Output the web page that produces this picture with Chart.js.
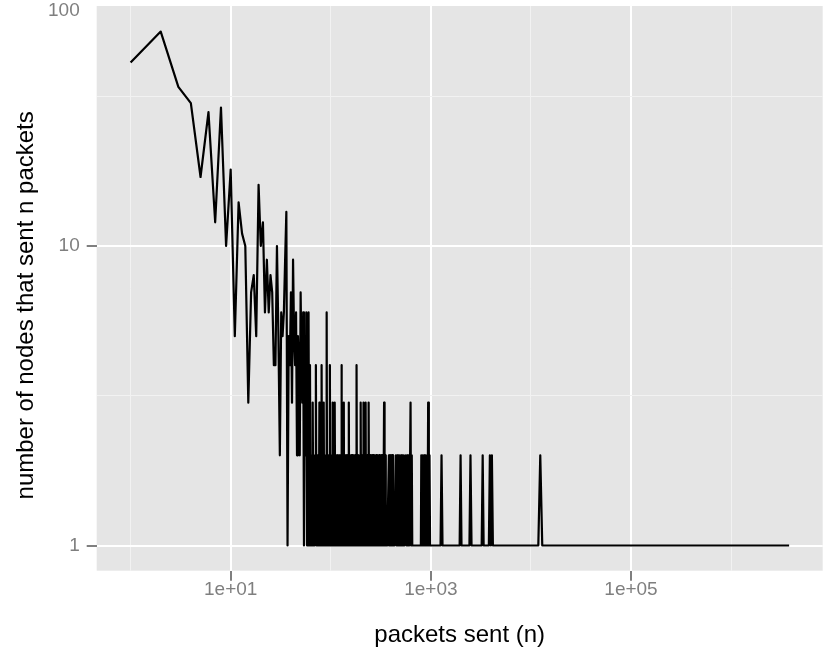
<!DOCTYPE html>
<html lang="en">
<head>
<meta charset="UTF-8">
<title>packets sent (n)</title>
<script src="https://cdn.jsdelivr.net/npm/chart.js"></script>
<style>
    body { margin: 0; background: #ffffff; }
    .chart-box { width: 830px; height: 667px; position: relative; }
</style>
</head>
<body>
<div class="chart-box"><canvas id="packetChart"></canvas></div>
<script>
// packets sent (n) and how many nodes sent exactly n packets
const packets = [
    // 1 - 52
    1, 2, 3, 4, 5, 6, 7, 8, 9, 10,
    11, 12, 13, 14, 15, 16, 17, 18, 19, 20,
    21, 22, 23, 24, 25, 26, 27, 28, 29, 30,
    31, 32, 33, 34, 35, 36, 37, 38, 39, 40,
    41, 42, 43, 44, 45, 46, 47, 48, 49, 50,
    51, 52,
    // 53 - 100
    53, 54, 55, 56, 57, 58, 59, 60, 61, 62,
    63, 64, 65, 66, 67, 68, 69, 70, 71, 72,
    73, 74, 75, 76, 77, 78, 79, 80, 81, 82,
    83, 84, 85, 86, 87, 88, 89, 90, 91, 92,
    93, 94, 95, 96, 97, 98, 99, 100,
    // 101 - 433
    101, 102, 103, 104, 105, 106, 107, 108, 109, 110,
    111, 112, 113, 114, 115, 116, 117, 118, 119, 120,
    121, 122, 123, 124, 125, 126, 127, 128, 129, 130,
    131, 132, 133, 135, 136, 137, 138, 139, 140, 141,
    142, 144, 145, 147, 148, 150, 151, 152, 153, 155,
    156, 158, 159, 161, 162, 164, 165, 167, 168, 170,
    171, 173, 174, 176, 177, 179, 180, 182, 183, 185,
    186, 188, 189, 191, 192, 194, 195, 197, 198, 200,
    201, 203, 204, 206, 207, 209, 210, 212, 213, 215,
    216, 218, 219, 221, 222, 224, 225, 228, 229, 232,
    233, 236, 237, 241, 242, 245, 246, 249, 250, 253,
    254, 257, 258, 261, 262, 266, 267, 271, 272, 276,
    277, 281, 282, 286, 287, 291, 292, 296, 297, 301,
    302, 306, 307, 311, 312, 316, 317, 322, 323, 328,
    329, 334, 335, 341, 342, 348, 349, 354, 355, 367,
    381, 382, 386, 387, 391, 392, 396, 397, 401, 402,
    407, 408, 413, 414, 419, 420, 433,
    // 448 and up
    448, 454, 461, 468, 475, 482, 489, 497, 505, 513,
    521, 529, 537, 545, 563, 572, 581, 590, 600, 610,
    627, 635, 645, 652, 720, 795, 803, 816, 829, 842,
    856, 870, 884, 898, 913, 927, 940, 955, 970, 982,
    1100, 1250, 1279, 1308, 1600, 1940, 1982, 2025, 2430, 2489,
    2550, 3220, 3296, 3370, 3800, 3890, 3980, 4074, 4170, 7000,
    11850, 12400, 12980, 30000, 3800000
];
const nodes = [
    // 1 - 52
    41, 52, 34, 30, 17, 28, 12, 29, 10, 18,
    5, 14, 11, 10, 3, 7, 8, 5, 16, 10,
    12, 6, 9, 6, 8, 7, 4, 4, 10, 5,
    2, 6, 5, 6, 9, 13, 1, 5, 4, 7,
    3, 9, 5, 4, 6, 2, 5, 4, 2, 7,
    4, 3,
    // 53 - 100
    6, 1, 5, 2, 6, 1, 4, 6, 1, 4,
    1, 2, 1, 3, 1, 2, 1, 2, 4, 1,
    2, 1, 2, 1, 3, 1, 2, 1, 4, 1,
    2, 1, 3, 1, 2, 1, 2, 1, 6, 1,
    2, 1, 2, 1, 2, 4, 1, 2,
    // 101 - 433
    1, 2, 1, 3, 1, 2, 1, 2, 1, 3,
    1, 2, 1, 2, 1, 2, 1, 2, 1, 2,
    1, 2, 1, 2, 1, 2, 1, 4, 1, 2,
    1, 2, 1, 3, 1, 2, 1, 2, 1, 2,
    1, 2, 1, 2, 1, 2, 1, 3, 1, 2,
    1, 2, 1, 2, 1, 2, 1, 2, 1, 2,
    1, 2, 1, 2, 1, 2, 1, 4, 1, 2,
    1, 2, 1, 2, 1, 2, 1, 2, 1, 3,
    1, 2, 1, 2, 1, 2, 1, 3, 1, 2,
    1, 2, 1, 2, 1, 3, 1, 2, 1, 2,
    1, 2, 1, 3, 1, 2, 1, 2, 1, 2,
    1, 2, 1, 2, 1, 2, 1, 2, 1, 2,
    1, 2, 1, 2, 1, 2, 1, 2, 1, 2,
    1, 2, 1, 2, 1, 2, 1, 2, 1, 2,
    1, 2, 1, 3, 1, 2, 1, 2, 1, 1,
    2, 1, 2, 1, 2, 1, 2, 1, 2, 1,
    2, 1, 2, 1, 2, 1, 1,
    // 448 and up
    2, 1, 2, 1, 2, 1, 2, 1, 2, 1,
    2, 1, 2, 1, 2, 1, 2, 1, 2, 1,
    3, 1, 2, 1, 1, 1, 2, 1, 2, 1,
    2, 1, 2, 1, 2, 1, 3, 1, 2, 1,
    1, 1, 2, 1, 1, 1, 2, 1, 1, 2,
    1, 1, 2, 1, 1, 2, 1, 2, 1, 1,
    1, 2, 1, 1, 1
];

// axis breaks (log10 scales)
const xBreaks = [10, 1000, 100000];
const xBreakLabels = ['1e+01', '1e+03', '1e+05'];
const xMinorBreaks = [1, 100, 10000, 1000000];
const yBreaks = [1, 10, 100];
const yBreakLabels = ['1', '10', '100'];
const yMinorBreaks = [3.1623, 31.623];

const xTitle = 'packets sent (n)';
const yTitle = 'number of nodes that sent n packets';

const FONT = "'Liberation Sans', Arial, sans-serif";
const TICK_GREY = '#7f7f7f';

function makeTicks(breaks, minorBreaks, min, max) {
    let ticks = breaks.map(v => ({ value: v, minor: false }))
        .concat(minorBreaks.map(v => ({ value: v, minor: true })));
    ticks = ticks.filter(t => t.value >= min && t.value <= max);
    ticks.sort((a, b) => a.value - b.value);
    return ticks;
}

function labelFor(breaks, labels, value) {
    const i = breaks.indexOf(value);
    return i >= 0 ? labels[i] : '';
}

const panelPlugin = {
    id: 'panelPlugin',
    beforeDraw(chart) {
        const { ctx, chartArea: a } = chart;
        ctx.save();
        ctx.fillStyle = '#e5e5e5';
        ctx.fillRect(a.left, a.top, a.right - a.left, a.bottom - a.top);
        ctx.restore();
    },
    afterDraw(chart) {
        const yScale = chart.scales.y;
        const { ctx, chartArea: a } = chart;
        ctx.save();
        // breaks above the panel still get their label, pinned to the top edge
        ctx.font = '19px ' + FONT;
        ctx.fillStyle = TICK_GREY;
        ctx.textAlign = 'right';
        ctx.textBaseline = 'middle';
        yBreaks.forEach((v, i) => {
            if (v > yScale.max) {
                ctx.fillText(yBreakLabels[i], yScale.right - 10 - 7, a.top + 4.5);
            }
        });
        // y title sits a little below the panel centre, like the original
        ctx.font = '24px ' + FONT;
        ctx.fillStyle = '#000000';
        ctx.textAlign = 'center';
        ctx.translate(26.5, (a.top + a.bottom) / 2 + 17);
        ctx.rotate(-Math.PI / 2);
        ctx.fillText(yTitle, 0, 0);
        ctx.restore();
    }
};

const xMin = 0.4585, xMax = 8.23e6;
const yMin = 0.824, yMax = 63.3;

const gridColor = c => (c.tick && c.tick.minor) ? '#f2f2f2' : '#ffffff';
const gridWidth = c => (c.tick && c.tick.minor) ? 1 : 2;
const tickColor = c => (c.tick && c.tick.minor) ? 'rgba(0,0,0,0)' : TICK_GREY;

const ctx = document.getElementById('packetChart').getContext('2d');
const packetChart = new Chart(ctx, {
    type: 'line',
    data: {
        datasets: [{
            data: packets.map((n, i) => ({ x: n, y: nodes[i] })),
            borderColor: '#000000',
            borderWidth: 2.2,
            borderJoinStyle: 'round',
            pointRadius: 0,
            tension: 0,
            fill: false
        }]
    },
    options: {
        responsive: true,
        maintainAspectRatio: false,
        animation: false,
        layout: { padding: { top: 6, right: 7.3, bottom: 0, left: 0 } },
        plugins: {
            legend: { display: false },
            tooltip: { enabled: false }
        },
        scales: {
            x: {
                type: 'logarithmic',
                position: 'bottom',
                min: xMin,
                max: xMax,
                bounds: 'data',
                afterBuildTicks: s => { s.ticks = makeTicks(xBreaks, xMinorBreaks, xMin, xMax); },
                afterFit: s => { s.height = 96.3; s.paddingLeft = 0; s.paddingRight = 0; },
                border: { display: false },
                grid: {
                    color: gridColor,
                    lineWidth: gridWidth,
                    tickColor: tickColor,
                    tickLength: 10,
                    tickWidth: 2
                },
                ticks: {
                    autoSkip: false,
                    maxRotation: 0,
                    padding: -2,
                    color: TICK_GREY,
                    font: { family: FONT, size: 19 },
                    callback: v => labelFor(xBreaks, xBreakLabels, v)
                },
                title: {
                    display: true,
                    text: xTitle,
                    color: '#000000',
                    font: { family: FONT, size: 24 },
                    padding: { top: 0, bottom: 17.6 }
                }
            },
            y: {
                type: 'logarithmic',
                position: 'left',
                min: yMin,
                max: yMax,
                bounds: 'data',
                afterBuildTicks: s => { s.ticks = makeTicks(yBreaks, yMinorBreaks, yMin, yMax); },
                afterFit: s => { s.width = 96.7; s.paddingTop = 0; s.paddingBottom = 0; },
                border: { display: false },
                grid: {
                    color: gridColor,
                    lineWidth: gridWidth,
                    tickColor: tickColor,
                    tickLength: 10,
                    tickWidth: 2
                },
                ticks: {
                    autoSkip: false,
                    padding: 7,
                    color: TICK_GREY,
                    font: { family: FONT, size: 19 },
                    callback: v => labelFor(yBreaks, yBreakLabels, v)
                }
            }
        }
    },
    plugins: [panelPlugin]
});
</script>
</body>
</html>
